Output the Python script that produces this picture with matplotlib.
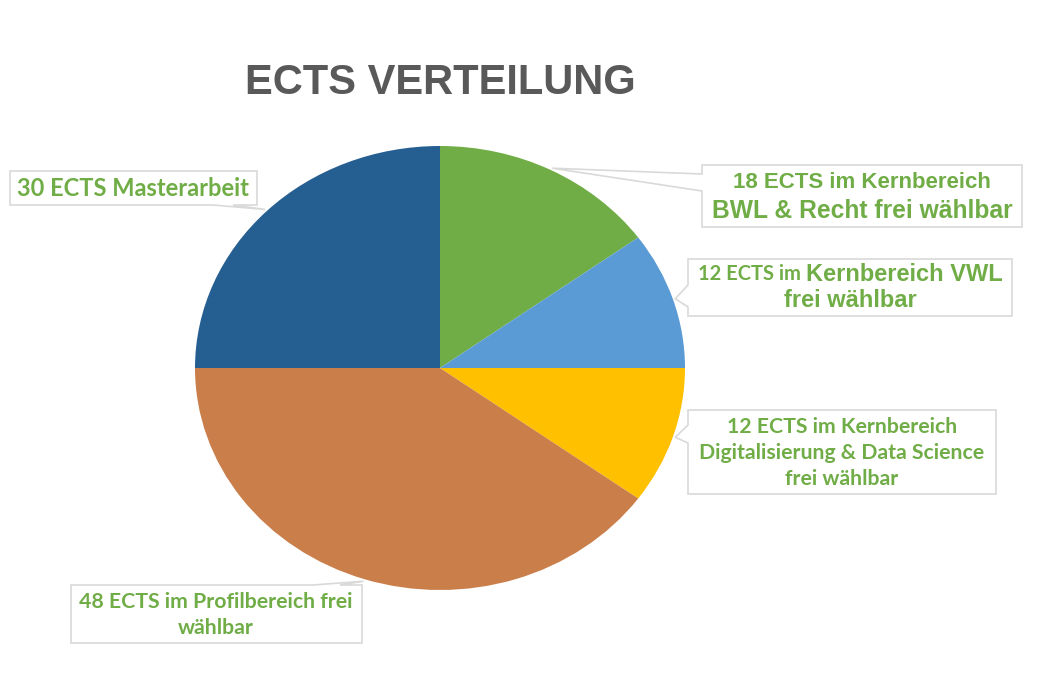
import numpy as np
import matplotlib
matplotlib.use("Agg")
import matplotlib.pyplot as plt
from matplotlib.patches import Polygon

# ECTS distribution of the master programme
labels = [
    "18 ECTS im Kernbereich BWL & Recht frei wählbar",
    "12 ECTS im Kernbereich VWL frei wählbar",
    "12 ECTS im Kernbereich Digitalisierung & Data Science frei wählbar",
    "48 ECTS im Profilbereich frei wählbar",
    "30 ECTS Masterarbeit",
]
ects = [18, 12, 12, 48, 30]
colors = ["#70ad47", "#5b9bd5", "#ffc000", "#ca7f4b", "#255e91"]

W, H = 1047, 698
fig = plt.figure(figsize=(W / 100, H / 100), dpi=100)
fig.patch.set_facecolor("white")

# pie geometry in pixels (centre and the two radii of the ellipse)
CX, CY, RX, RY = 440, 368, 245, 222
ax = fig.add_axes([(CX - RX) / W, (H - CY - RY) / H, 2 * RX / W, 2 * RY / H])
wedges, _ = ax.pie(ects, colors=colors, startangle=90, counterclock=False,
                   wedgeprops=dict(linewidth=0))
ax.set_aspect("auto")
ax.set_xlim(-1, 1)
ax.set_ylim(-1, 1)
ax.axis("off")

ov = fig.add_axes([0, 0, 1, 1], zorder=5)
ov.set_xlim(0, W)
ov.set_ylim(H, 0)
ov.axis("off")
ov.patch.set_alpha(0)

fig.text(440 / W, 1 - 83 / H, "ECTS VERTEILUNG", ha="center", va="center",
         fontsize=30, fontweight="bold", color="#595959",
         family="Liberation Sans")

GREEN = "#70ad47"
ARIAL = "Liberation Sans"
CAL = "Lato"


def tip_of(w, r=1.01):
    a = np.deg2rad((w.theta1 + w.theta2) / 2)
    return CX + r * RX * np.cos(a), CY - r * RY * np.sin(a)


def callout(box, side, b0, b1, tip):
    x0, y0, x1, y1 = box
    if side == "left":
        pts = [(x0, y0), (x1, y0), (x1, y1), (x0, y1), (x0, b1), tip, (x0, b0)]
    elif side == "bottom":
        pts = [(x0, y0), (x1, y0), (x1, y1), (b1, y1), tip, (b0, y1), (x0, y1)]
    else:  # top
        pts = [(x0, y0), (b0, y0), tip, (b1, y0), (x1, y0), (x1, y1), (x0, y1)]
    ov.add_patch(Polygon(pts, closed=True, facecolor="white",
                         edgecolor="#d9d9d9", linewidth=1.2, zorder=2))


renderer = fig.canvas.get_renderer()


def draw_lines(cx, cy, pitch, lines):
    n = len(lines)
    for i, segs in enumerate(lines):
        y = cy + (i - (n - 1) / 2) * pitch
        arts = []
        for txt, fam, size in segs:
            t = ov.text(0, y, txt, family=fam, fontsize=size, fontweight="bold",
                        color=GREEN, ha="left", va="center", zorder=3)
            arts.append(t)
        widths = [a.get_window_extent(renderer).width for a in arts]
        x = cx - sum(widths) / 2
        for a, wd in zip(arts, widths):
            a.set_x(x)
            x += wd


w_bwl, w_vwl, w_dig, w_pro, w_ma = wedges

# 18 ECTS BWL & Recht
callout((702, 165, 1022, 227), "left", 174, 191, tip_of(w_bwl))
draw_lines(862, 197, 28, [[("18 ECTS im Kernbereich", ARIAL, 16)],
                          [("BWL & Recht frei wählbar", ARIAL, 17.7)]])

# 12 ECTS VWL
callout((688, 259, 1012, 316), "left", 285, 307, tip_of(w_vwl))
draw_lines(850, 287.5, 26, [[("12 ECTS im ", CAL, 14.5), ("Kernbereich VWL", ARIAL, 17)],
                            [("frei wählbar", ARIAL, 17)]])

# 12 ECTS Digitalisierung & Data Science
callout((688, 410, 996, 494), "left", 425, 443, tip_of(w_dig))
draw_lines(842, 453, 26, [[("12 ECTS im Kernbereich", CAL, 15.3)],
                          [("Digitalisierung & Data Science", CAL, 15.3)],
                          [("frei wählbar", CAL, 15.3)]])

# 48 ECTS Profilbereich
callout((71, 585, 362, 643), "top", 313, 340, tip_of(w_pro))
draw_lines(216, 615, 26, [[("48 ECTS im Profilbereich frei", CAL, 15.3)],
                          [("wählbar", CAL, 15.3)]])

# 30 ECTS Masterarbeit
callout((10, 171, 257, 205), "bottom", 213, 233, tip_of(w_ma))
draw_lines(133, 188, 26, [[("30 ECTS Masterarbeit", CAL, 17)]])

fig.savefig("out.png", dpi=100, facecolor="white")
